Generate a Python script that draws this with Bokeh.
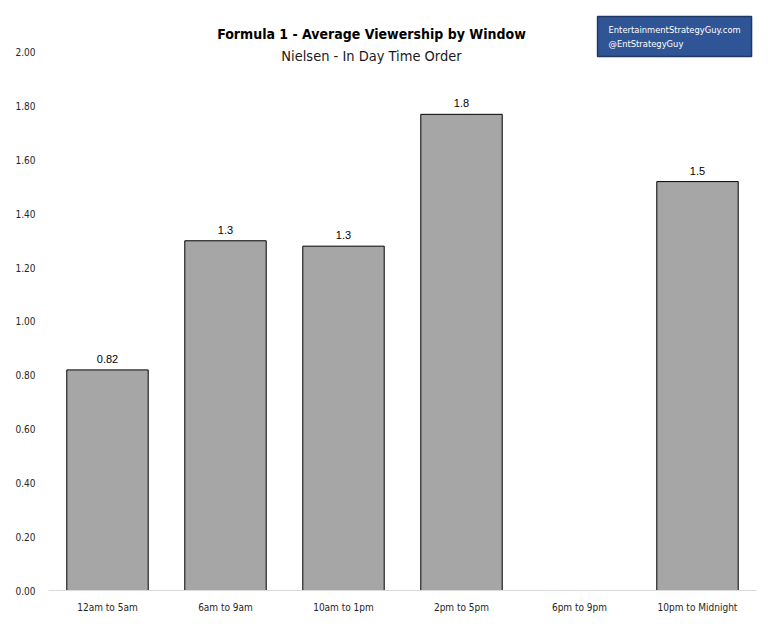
import numpy as np
from bokeh.plotting import figure
from bokeh.models import ColumnDataSource, Range1d, FixedTicker, Label
from bokeh.core.properties import value
from bokeh.embed import file_html
from bokeh.resources import INLINE

categories = ["12am to 5am", "6am to 9am", "10am to 1pm", "2pm to 5pm", "6pm to 9pm", "10pm to Midnight"]
viewers = [0.82, 1.30, 1.28, 1.77, None, 1.52]
value_labels = ["0.82", "1.3", "1.3", "1.8", "", "1.5"]
y_ticks = [0.0, 0.2, 0.4, 0.6, 0.8, 1.0, 1.2, 1.4, 1.6, 1.8, 2.0]

NARROW = "DejaVu Sans Condensed"

xs = [i + 0.5 for i in range(len(categories))]
tops = [np.nan if v is None else v for v in viewers]
src = ColumnDataSource(dict(x=xs, top=tops, lab=value_labels, cat=categories))

p = figure(width=780, height=636, output_backend="svg", toolbar_location=None,
           x_range=Range1d(0, len(categories)), y_range=Range1d(0, 2.156),
           min_border_left=48, min_border_right=24, min_border_top=10, min_border_bottom=46)
p.outline_line_color = None
p.xgrid.grid_line_color = None
p.ygrid.grid_line_color = None
p.background_fill_color = "white"
p.border_fill_color = "white"

p.vbar(x="x", top="top", width=0.69, bottom=0, source=src,
       fill_color="#a6a6a6", line_color="black", line_width=1)

p.text(x="x", y="top", text="lab", source=src, text_align="center", text_baseline="bottom",
       y_offset=-7, text_font_size="11px", text_color="black", text_font=value("Liberation Sans"))

# axes
p.xaxis.ticker = FixedTicker(ticks=xs)
p.xaxis.major_label_overrides = {x: c for x, c in zip(xs, categories)}
p.xaxis.axis_line_color = "#d9d9d9"
p.xaxis.major_tick_line_color = None
p.xaxis.minor_tick_line_color = None
p.xaxis.major_label_standoff = 5
p.xaxis.major_label_text_font = NARROW
p.xaxis.major_label_text_font_size = "10px"
p.xaxis.major_label_text_color = "#262626"

p.yaxis.ticker = FixedTicker(ticks=y_ticks)
p.yaxis.major_label_overrides = {t: f"{t:.2f}" for t in y_ticks}
p.yaxis.axis_line_color = None
p.yaxis.major_tick_line_color = None
p.yaxis.minor_tick_line_color = None
p.yaxis.major_label_standoff = 7
p.yaxis.major_label_text_font = NARROW
p.yaxis.major_label_text_font_size = "10px"
p.yaxis.major_label_text_color = "#262626"

# titles
p.add_layout(Label(x=2.737, y=2.068, text="Formula 1 - Average Viewership by Window",
                   text_align="center", text_baseline="middle", text_font=NARROW,
                   text_font_style="bold", text_font_size="14px", text_color="black"))
p.add_layout(Label(x=2.737, y=1.987, text="Nielsen - In Day Time Order",
                   text_align="center", text_baseline="middle", text_font=NARROW,
                   text_font_size="14.5px", text_color="#1a1a1a"))

# branding box
p.quad(left=[4.653], right=[5.958], top=[2.134], bottom=[1.985],
       fill_color="#2f5597", line_color="#1f3864", line_width=1.5)
p.add_layout(Label(x=4.746, y=2.0855, text="EntertainmentStrategyGuy.com",
                   text_align="left", text_baseline="middle", text_font=NARROW,
                   text_font_size="9.3px", text_color="white"))
p.add_layout(Label(x=4.746, y=2.035, text="@EntStrategyGuy",
                   text_align="left", text_baseline="middle", text_font=NARROW,
                   text_font_size="9.3px", text_color="white"))

open("out.html", "w").write(file_html(p, INLINE))
